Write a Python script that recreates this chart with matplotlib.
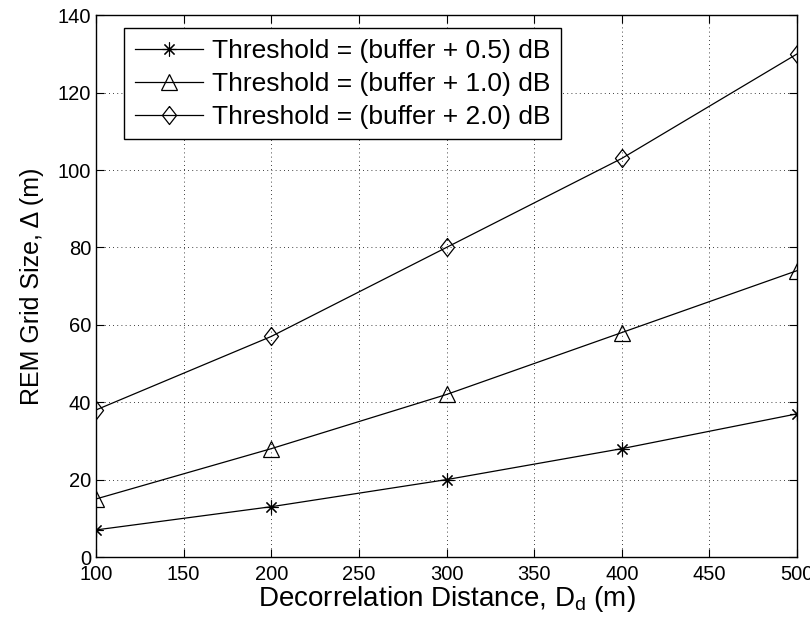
"""
REM grid size vs decorrelation distance
"""

import matplotlib
matplotlib.use('Agg')
import matplotlib.pyplot as plt

plt.rcParams['font.family'] = ['Liberation Sans', 'DejaVu Sans']
plt.rcParams['mathtext.fontset'] = 'custom'
plt.rcParams['mathtext.rm'] = 'Liberation Sans'
plt.rcParams['mathtext.it'] = 'Liberation Sans'

# data
dist = [100, 200, 300, 400, 500]
thr_05 = [7, 13, 20, 28, 37]
thr_10 = [15, 28, 42, 58, 74]
thr_20 = [38, 57, 80, 103, 130]
labels = ['Threshold = (buffer + 0.5) dB',
          'Threshold = (buffer + 1.0) dB',
          'Threshold = (buffer + 2.0) dB']

# matlab-like diamond (a bit taller than wide)
diamond = [(0, 1), (0.78, 0), (0, -1), (-0.78, 0), (0, 1)]

fig = plt.figure(figsize=(8.1, 6.35), dpi=100)
ax = fig.add_axes([0.1185, 0.1228, 0.8655, 0.8532])

ax.plot(dist, thr_05, 'k-', marker=(8, 2, 0), markersize=10, markeredgewidth=0.8, linewidth=0.9, label=labels[0])
ax.plot(dist, thr_10, 'k-', marker='^', markersize=11, markerfacecolor='none', markeredgewidth=0.9, linewidth=0.9, label=labels[1])
ax.plot(dist, thr_20, 'k-', marker=diamond, markersize=13, markerfacecolor='none', markeredgewidth=0.9, linewidth=0.9, label=labels[2])

ax.set_xlim(100, 500)
ax.set_ylim(0, 140)
ax.set_xticks(range(100, 501, 50))
ax.set_yticks(range(0, 141, 20))
ax.grid(True, linestyle=(0, (1, 4)), color='k', linewidth=0.6)
ax.tick_params(direction='in', top=True, right=True, labelsize=14.5, length=6, width=0.8)
ax.tick_params(axis='x', pad=6)
for s in ax.spines.values():
    s.set_linewidth(1.0)

ax.set_xlabel('Decorrelation Distance, D$_\\mathrm{d}$ (m)', fontsize=20, labelpad=0)
ax.set_ylabel('REM Grid Size, \u0394 (m)', fontsize=18, labelpad=10)

leg = ax.legend(loc='upper left', bbox_to_anchor=(0.04, 0.976), borderaxespad=0,
                fontsize=19, fancybox=False, framealpha=1,
                edgecolor='k', handlelength=2.6, handletextpad=0.35,
                borderpad=0.4, labelspacing=0.34)
leg.get_frame().set_linewidth(1.0)

fig.savefig('out.png', dpi=100)
